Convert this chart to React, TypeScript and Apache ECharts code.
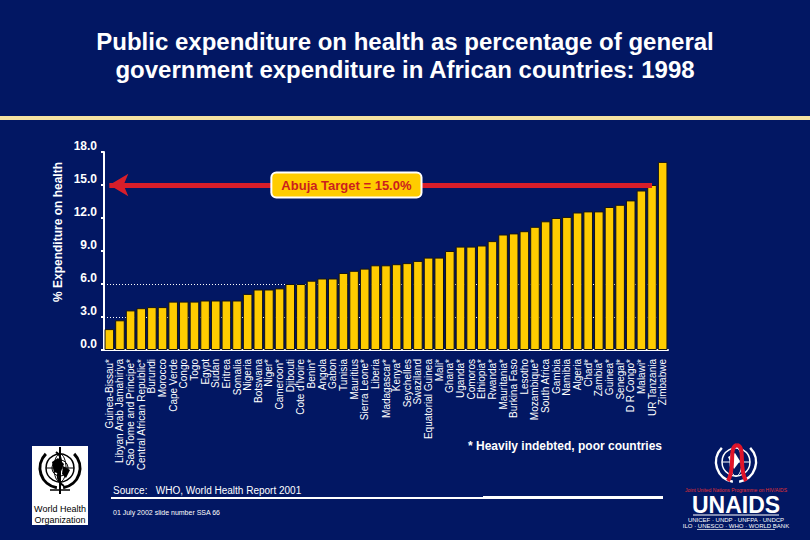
import React, { useEffect, useRef } from "react";
import * as echarts from "echarts";

const categories = [
  "Guinea-Bissau*", "Libyan Arab Jamahiriya", "Sao Tome and Principe*", "Central African Republic*",
  "Burundi", "Morocco", "Cape Verde", "Congo", "Togo", "Egypt", "Sudan", "Eritrea", "Somalia",
  "Nigeria", "Botswana", "Niger*", "Cameroon*", "Djibouti", "Cote d'Ivoire", "Benin*", "Angola",
  "Gabon", "Tunisia", "Mauritius", "Sierra Leone*", "Liberia", "Madagascar*", "Kenya*",
  "Seychelles", "Swaziland", "Equatorial Guinea", "Mali*", "Ghana*", "Uganda*", "Comoros",
  "Ethiopia*", "Rwanda*", "Mauritania*", "Burkina Faso", "Lesotho", "Mozambique*", "South Africa",
  "Gambia", "Namibia", "Algeria", "Chad*", "Zambia*", "Guinea*", "Senegal*", "D R Congo*",
  "Malawi*", "UR Tanzania", "Zimbabwe",
];

const values = [
  1.9, 2.7, 3.6, 3.8, 3.9, 3.9, 4.4, 4.4, 4.4, 4.5, 4.5, 4.5, 4.5, 5.1, 5.5, 5.5, 5.6, 6.0,
  6.0, 6.3, 6.5, 6.5, 7.0, 7.2, 7.4, 7.7, 7.7, 7.8, 7.9, 8.1, 8.4, 8.4, 9.0, 9.4, 9.4, 9.5,
  9.9, 10.5, 10.6, 10.8, 11.2, 11.7, 12.0, 12.1, 12.5, 12.6, 12.6, 13.0, 13.2, 13.6, 14.5,
  15.0, 17.1,
];

const abujaTarget = 15.0;
const yMin = 0;
const yMax = 18;
const yInterval = 3;

const titleLines = [
  "Public expenditure on health as percentage of general",
  "government expenditure in African countries: 1998",
];
const yAxisTitle = "% Expenditure on health";
const targetLabel = "Abuja Target = 15.0%";
const footnote = "* Heavily indebted, poor countries";
const sourceText = "Source:   WHO, World Health Report 2001";
const slideText = "01 July 2002 slide number SSA 66";

const BG = "#021763";
const YELLOW = "#ffcc00";
const RED = "#d81e2a";
const FONT = "'Liberation Sans', Arial, Helvetica, sans-serif";
const NARROW = "'Liberation Sans Narrow', 'Arial Narrow', 'Liberation Sans', Arial, sans-serif";

export default function App() {
  const ref = useRef<HTMLDivElement>(null);

  useEffect(() => {
    if (!ref.current) return;
    const chart = echarts.init(ref.current, undefined, { renderer: "svg" });
    const splitColors = ["rgba(0,0,0,0)", "#ffffff", "#ffffff", "rgba(0,0,0,0)", "rgba(0,0,0,0)", "rgba(0,0,0,0)", "rgba(0,0,0,0)"];

    const option: any = {
      animation: false,
      backgroundColor: BG,
      title: {
        text: titleLines.join("\n"),
        left: "center",
        top: 22,
        textStyle: {
          color: "#ffffff",
          fontSize: 24,
          fontWeight: "bold",
          fontFamily: FONT,
          lineHeight: 28,
          textShadowColor: "rgba(0,0,0,0.7)",
          textShadowOffsetX: 1,
          textShadowOffsetY: 1,
          textShadowBlur: 0,
        },
      },
      grid: { left: 104, right: 142, top: 152, bottom: 190, containLabel: false },
      xAxis: {
        type: "category",
        data: categories,
        axisLine: { show: true, lineStyle: { color: "#ffffff", width: 2 } },
        axisTick: { show: false },
        axisLabel: {
          interval: 0,
          rotate: 90,
          color: "#ffffff",
          fontSize: 10,
          fontFamily: FONT,
          margin: 9,
        },
      },
      yAxis: {
        type: "value",
        min: yMin,
        max: yMax,
        interval: yInterval,
        axisLine: { show: true, lineStyle: { color: "#ffffff", width: 2 } },
        axisTick: { show: true, length: 3, lineStyle: { color: "#ffffff", width: 2 } },
        axisLabel: {
          color: "#ffffff",
          fontSize: 12,
          fontWeight: "bold",
          fontFamily: NARROW,
          margin: 7,
          verticalAlign: "bottom",
          formatter: (v: number) => v.toFixed(1),
        },
        splitLine: {
          show: true,
          lineStyle: { color: splitColors, type: [1, 2], width: 1 },
        },
      },
      series: [
        {
          type: "bar",
          data: values,
          barCategoryGap: "10%",
          itemStyle: { color: YELLOW, borderColor: "#141414", borderWidth: 1 },
          z: 2,
          markLine: {
            z: 5,
            silent: true,
            label: { show: false },
            lineStyle: { color: RED, width: 5, type: "solid" },
            data: [
              [
                { coord: [categories[0], abujaTarget], symbol: "arrow", symbolSize: [17, 19] },
                { coord: [categories[51], abujaTarget], symbol: "none" },
              ],
            ],
          },
          markPoint: {
            z: 6,
            silent: true,
            symbol: "rect",
            symbolSize: 1,
            itemStyle: { color: "rgba(0,0,0,0)" },
            label: {
              show: true,
              position: "inside",
              offset: [3, 0],
              formatter: targetLabel,
              color: "#cc1e1e",
              fontWeight: "bold",
              fontSize: 13,
              fontFamily: FONT,
              backgroundColor: YELLOW,
              borderColor: "#ffffff",
              borderWidth: 2,
              borderRadius: 4,
              padding: [5, 9, 5, 9],
            },
            data: [{ coord: [categories[22], abujaTarget], value: abujaTarget }],
          },
        },
      ],
      graphic: [
        { type: "rect", shape: { x: 0, y: 116, width: 810, height: 4 }, style: { fill: "#f6e3a1" }, silent: true },
        {
          type: "text",
          x: 58,
          y: 232,
          rotation: Math.PI / 2,
          style: {
            text: yAxisTitle,
            fill: "#ffffff",
            fontSize: 12,
            fontWeight: "bold",
            fontFamily: NARROW,
            align: "center",
            verticalAlign: "middle",
          },
        },
        {
          type: "text",
          x: 468,
          y: 446,
          style: { text: footnote, fill: "#ffffff", fontSize: 12, fontWeight: "bold", fontFamily: NARROW, align: "left", verticalAlign: "middle" },
        },
        {
          type: "text",
          x: 113,
          y: 490,
          style: { text: sourceText, fill: "#ffffff", fontSize: 10, fontFamily: NARROW, align: "left", verticalAlign: "middle" },
        },
        { type: "rect", shape: { x: 111, y: 497, width: 372, height: 2 }, style: { fill: "#ffffff" } },
        { type: "rect", shape: { x: 483, y: 496, width: 180, height: 3 }, style: { fill: "#ffffff" } },
        {
          type: "text",
          x: 113,
          y: 512,
          style: { text: slideText, fill: "#ffffff", fontSize: 7, fontFamily: NARROW, align: "left", verticalAlign: "middle" },
        },
        // WHO logo
        {
          type: "group",
          children: [
            { type: "rect", shape: { x: 32, y: 446, width: 56, height: 79 }, style: { fill: "#ffffff" } },
            { type: "circle", shape: { cx: 60, cy: 468, r: 14 }, style: { fill: "#ffffff", stroke: "#000", lineWidth: 1.5 } },
            { type: "circle", shape: { cx: 60, cy: 468, r: 8 }, style: { fill: "none", stroke: "#000", lineWidth: 1 } },
            { type: "ellipse", shape: { cx: 60, cy: 468, rx: 6, ry: 14 }, style: { fill: "none", stroke: "#000", lineWidth: 1 } },
            { type: "line", shape: { x1: 46, y1: 468, x2: 74, y2: 468 }, style: { stroke: "#000", lineWidth: 1 } },
            { type: "polygon", shape: { points: [[52, 462], [58, 458], [64, 464], [60, 474], [54, 472]] }, style: { fill: "#000" } },
            { type: "polygon", shape: { points: [[63, 466], [70, 470], [66, 478], [62, 474]] }, style: { fill: "#000" } },
            { type: "arc", shape: { cx: 60, cy: 468, r: 20, startAngle: Math.PI * 0.55, endAngle: Math.PI * 1.25 }, style: { stroke: "#000", lineWidth: 3, fill: "none" } },
            { type: "arc", shape: { cx: 60, cy: 468, r: 20, startAngle: -Math.PI * 0.25, endAngle: Math.PI * 0.45 }, style: { stroke: "#000", lineWidth: 3, fill: "none" } },
            { type: "line", shape: { x1: 60, y1: 447, x2: 60, y2: 494 }, style: { stroke: "#000", lineWidth: 2 } },
            { type: "bezierCurve", shape: { x1: 56, y1: 452, x2: 64, y2: 486, cpx1: 70, cpy1: 462, cpx2: 48, cpy2: 476 }, style: { stroke: "#000", lineWidth: 2, fill: "none" } },
            { type: "line", shape: { x1: 50, y1: 490, x2: 70, y2: 490 }, style: { stroke: "#000", lineWidth: 1.5 } },
            { type: "text", x: 60, y: 509, style: { text: "World Health", fill: "#000", fontSize: 9, fontFamily: FONT, align: "center", verticalAlign: "middle" } },
            { type: "text", x: 60, y: 520, style: { text: "Organization", fill: "#000", fontSize: 9, fontFamily: FONT, align: "center", verticalAlign: "middle" } },
          ],
        },
        // UNAIDS logo
        {
          type: "group",
          children: [
            { type: "circle", shape: { cx: 736, cy: 462, r: 14 }, style: { fill: "none", stroke: "#ffffff", lineWidth: 1.5 } },
            { type: "ellipse", shape: { cx: 736, cy: 462, rx: 6, ry: 14 }, style: { fill: "none", stroke: "#ffffff", lineWidth: 1 } },
            { type: "line", shape: { x1: 722, y1: 462, x2: 750, y2: 462 }, style: { stroke: "#ffffff", lineWidth: 1 } },
            { type: "polygon", shape: { points: [[728, 457], [735, 453], [740, 461], [734, 469]] }, style: { fill: "#ffffff" } },
            { type: "arc", shape: { cx: 736, cy: 462, r: 20, startAngle: Math.PI * 0.55, endAngle: Math.PI * 1.25 }, style: { stroke: "#ffffff", lineWidth: 2.5, fill: "none" } },
            { type: "arc", shape: { cx: 736, cy: 462, r: 20, startAngle: -Math.PI * 0.25, endAngle: Math.PI * 0.45 }, style: { stroke: "#ffffff", lineWidth: 2.5, fill: "none" } },
            { type: "bezierCurve", shape: { x1: 728, y1: 481, x2: 737, y2: 445, cpx1: 736, cpy1: 467, cpx2: 728, cpy2: 447 }, style: { stroke: "#e0142a", lineWidth: 4, fill: "none" } },
            { type: "bezierCurve", shape: { x1: 746, y1: 481, x2: 737, y2: 445, cpx1: 738, cpy1: 467, cpx2: 746, cpy2: 447 }, style: { stroke: "#e0142a", lineWidth: 4, fill: "none" } },
            { type: "text", x: 736, y: 489.5, style: { text: "Joint United Nations Programme on HIV/AIDS", fill: "#e03030", fontSize: 5, lineHeight: 5, fontFamily: FONT, align: "center", verticalAlign: "middle" } },
            { type: "text", x: 736, y: 505, style: { text: "UNAIDS", fill: "#ffffff", fontSize: 23, lineHeight: 18, fontWeight: "bold", fontFamily: FONT, align: "center", verticalAlign: "middle" } },
            { type: "line", shape: { x1: 693, y1: 515, x2: 779, y2: 515 }, style: { stroke: "#ffffff", lineWidth: 1 } },
            { type: "text", x: 736, y: 519.5, style: { text: "UNICEF · UNDP · UNFPA · UNDCP", fill: "#ffffff", fontSize: 6, lineHeight: 6, fontFamily: NARROW, align: "center", verticalAlign: "middle" } },
            { type: "text", x: 736, y: 526, style: { text: "ILO · UNESCO · WHO · WORLD BANK", fill: "#ffffff", fontSize: 6, lineHeight: 6, fontFamily: NARROW, align: "center", verticalAlign: "middle" } },
            { type: "line", shape: { x1: 697, y1: 529.5, x2: 775, y2: 529.5 }, style: { stroke: "#ffffff", lineWidth: 0.7 } },
          ],
        },
      ],
    };

    chart.setOption(option);
    return () => chart.dispose();
  }, []);

  return (
    <div
      ref={ref}
      style={{ position: "fixed", left: 0, top: 0, width: 810, height: 540 }}
    />
  );
}
